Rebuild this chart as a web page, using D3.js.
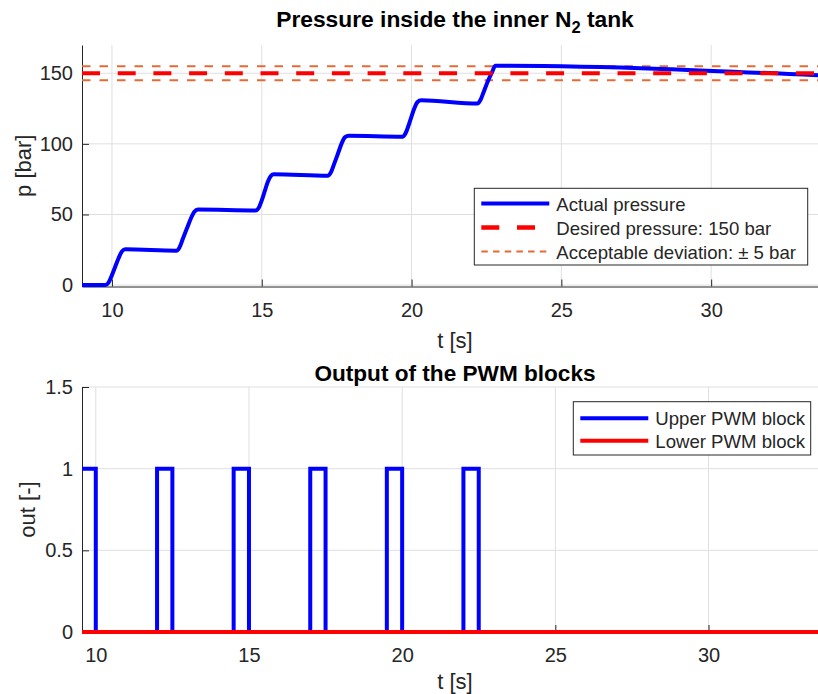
<!DOCTYPE html>
<html>
<head>
<meta charset="utf-8">
<script src="https://cdn.jsdelivr.net/npm/d3@7"></script>
<style>
    body { margin: 0; background: #fff; }
    svg { display: block; font-family: "Liberation Sans", Arial, Helvetica, sans-serif; }
    .axis path, .axis line { stroke: #262626; }
    .axis text { fill: #262626; font-size: 20px; }
</style>
</head>
<body>
<div id="main"></div>
<script>
// Pressure in the inner N2 tank (top plot)
const pressureT = [9.0, 9.78, 9.88, 9.98, 10.1, 10.22, 10.33, 10.45,
    12.15, 12.25, 12.37, 12.5, 12.63, 12.75, 12.87,
    14.8, 14.9, 15.0, 15.1, 15.2, 15.3, 15.4,
    17.2, 17.3, 17.42, 17.55, 17.67, 17.78, 17.9,
    19.7, 19.8, 19.9, 20.0, 20.1, 20.2, 20.32,
    22.2, 22.3, 22.42, 22.55, 22.68, 22.8,
    33.9];
const pressureP = [0, 0, 1.5, 6, 12.5, 19, 23.8, 25.3,
    24.4, 26.5, 33, 40, 47, 52, 53.6,
    52.9, 54.8, 60, 66.5, 73, 77.2, 78.4,
    77.4, 79.5, 86, 93.5, 100.5, 104.8, 105.8,
    105.1, 107.5, 113, 119.5, 125.5, 129.6, 130.8,
    128.5, 131, 137.5, 144.5, 150.5, 155.3,
    148.2];
const desiredPressure = 150;
const deviation = 5;

// PWM outputs (bottom plot), step signals
const pwmT = [9.55, 10.0, 12.0, 12.5, 14.5, 15.0, 17.0, 17.5, 19.5, 20.0, 22.0, 22.5, 33.9];
const upperPWM = [1, 0, 1, 0, 1, 0, 1, 0, 1, 0, 1, 0, 0];
const lowerPWM = [0, 0, 0, 0, 0, 0, 0, 0, 0, 0, 0, 0, 0];

const xTicks = [10, 15, 20, 25, 30];
const pTicks = [0, 50, 100, 150];
const outTicks = [0, 0.5, 1, 1.5];

const topLegend = ['Actual pressure', 'Desired pressure: 150 bar', 'Acceptable deviation: \u00B1 5 bar'];
const bottomLegend = ['Upper PWM block', 'Lower PWM block'];

const W = 818, H = 694;
const gridColor = '#dfdfdf';
const orange = '#e66a35';

const svg = d3.select('#main').append('svg')
    .attr('width', W)
    .attr('height', H);

// scales
const x1 = d3.scaleLinear().domain([9, 33.9]).range([82, 828]);
const y1 = d3.scaleLinear().domain([-1, 170]).range([286.5, 45]);
const x2 = d3.scaleLinear().domain([9.55, 33.9]).range([82, 828]);
const y2 = d3.scaleLinear().domain([0, 1.5]).range([632, 387]);

function drawFrame(x, y, yTicks, yFormat) {
    const g = svg.append('g');
    g.selectAll('.vgrid').data(xTicks).enter().append('line')
        .attr('x1', d => x(d)).attr('x2', d => x(d))
        .attr('y1', y.range()[0]).attr('y2', y.range()[1])
        .attr('stroke', gridColor);
    g.selectAll('.hgrid').data(yTicks).enter().append('line')
        .attr('x1', x.range()[0]).attr('x2', x.range()[1])
        .attr('y1', d => y(d)).attr('y2', d => y(d))
        .attr('stroke', gridColor);

    svg.append('g')
        .attr('class', 'axis')
        .attr('transform', 'translate(0,' + y.range()[0] + ')')
        .call(d3.axisBottom(x).tickValues(xTicks).tickSizeInner(-7).tickSizeOuter(0).tickPadding(16))
        .attr('font-family', null);

    svg.append('g')
        .attr('class', 'axis')
        .attr('transform', 'translate(' + x.range()[0] + ',0)')
        .call(d3.axisLeft(y).tickValues(yTicks).tickFormat(yFormat).tickSizeInner(-7).tickSizeOuter(0).tickPadding(9))
        .attr('font-family', null);
}

drawFrame(x1, y1, pTicks, d3.format('d'));
drawFrame(x2, y2, outTicks, d => String(d));

// top plot lines
const pressure = pressureT.map((t, i) => ({t: t, p: pressureP[i]}));

svg.append('line')
    .attr('x1', x1.range()[0]).attr('x2', x1.range()[1])
    .attr('y1', y1(desiredPressure + deviation)).attr('y2', y1(desiredPressure + deviation))
    .attr('stroke', orange).attr('stroke-width', 2).attr('stroke-dasharray', '8.5,9');
svg.append('line')
    .attr('x1', x1.range()[0]).attr('x2', x1.range()[1])
    .attr('y1', y1(desiredPressure - deviation)).attr('y2', y1(desiredPressure - deviation))
    .attr('stroke', orange).attr('stroke-width', 2).attr('stroke-dasharray', '8.5,9');

svg.append('path')
    .datum(pressure)
    .attr('fill', 'none')
    .attr('stroke', '#0000ff')
    .attr('stroke-width', 4)
    .attr('stroke-linejoin', 'round')
    .attr('d', d3.line().x(d => x1(d.t)).y(d => y1(d.p)).curve(d3.curveMonotoneX));

svg.append('line')
    .attr('x1', x1.range()[0]).attr('x2', x1.range()[1])
    .attr('y1', y1(desiredPressure)).attr('y2', y1(desiredPressure))
    .attr('stroke', '#ff0000').attr('stroke-width', 4).attr('stroke-dasharray', '18,17.7');

// bottom plot lines
const upper = pwmT.map((t, i) => ({t: t, v: upperPWM[i]}));
const lower = pwmT.map((t, i) => ({t: t, v: lowerPWM[i]}));
const stepLine = d3.line().x(d => x2(d.t)).y(d => y2(d.v)).curve(d3.curveStepAfter);

svg.append('path')
    .datum(upper)
    .attr('fill', 'none')
    .attr('stroke', '#0000ff')
    .attr('stroke-width', 4)
    .attr('d', stepLine);

svg.append('path')
    .datum(lower)
    .attr('fill', 'none')
    .attr('stroke', '#ff0000')
    .attr('stroke-width', 4)
    .attr('d', stepLine);

// titles
const t1 = svg.append('text')
    .attr('x', 455).attr('y', 26.7)
    .attr('text-anchor', 'middle')
    .attr('font-size', 22.8).attr('font-weight', 'bold').attr('fill', '#000');
t1.append('tspan').text('Pressure inside the inner N');
t1.append('tspan').attr('font-size', 16.5).attr('dy', 6).text('2');
t1.append('tspan').attr('dy', -6).text(' tank');

svg.append('text')
    .attr('x', 455).attr('y', 380.5)
    .attr('text-anchor', 'middle')
    .attr('font-size', 22.6).attr('font-weight', 'bold').attr('fill', '#000')
    .text('Output of the PWM blocks');

// axis labels
svg.append('text')
    .attr('x', 455).attr('y', 347.7)
    .attr('text-anchor', 'middle').attr('font-size', 22).attr('fill', '#262626')
    .text('t [s]');
svg.append('text')
    .attr('x', 455).attr('y', 689.3)
    .attr('text-anchor', 'middle').attr('font-size', 22).attr('fill', '#262626')
    .text('t [s]');
svg.append('text')
    .attr('transform', 'translate(31,' + ((y1.range()[0] + y1.range()[1]) / 2) + ') rotate(-90)')
    .attr('text-anchor', 'middle').attr('font-size', 22).attr('fill', '#262626')
    .text('p [bar]');
svg.append('text')
    .attr('transform', 'translate(35,' + ((y2.range()[0] + y2.range()[1]) / 2) + ') rotate(-90)')
    .attr('text-anchor', 'middle').attr('font-size', 22).attr('fill', '#262626')
    .text('out [-]');

// legends
const topStyles = [
    {stroke: '#0000ff', width: 4, dash: null},
    {stroke: '#ff0000', width: 4.5, dash: '18,17.7'},
    {stroke: orange, width: 2, dash: '6.5,5.2'}
];
const bottomStyles = [
    {stroke: '#0000ff', width: 4, dash: null},
    {stroke: '#ff0000', width: 4, dash: null}
];

function drawLegend(left, top, right, bottom, rowY, labels, styles) {
    const g = svg.append('g');
    g.append('rect')
        .attr('x', left).attr('y', top)
        .attr('width', right - left).attr('height', bottom - top)
        .attr('fill', '#fff').attr('stroke', '#262626').attr('stroke-width', 1);
    labels.forEach((label, i) => {
        const s = styles[i];
        g.append('line')
            .attr('x1', left + 7).attr('x2', left + 75)
            .attr('y1', rowY[i]).attr('y2', rowY[i])
            .attr('stroke', s.stroke).attr('stroke-width', s.width)
            .attr('stroke-dasharray', s.dash);
        g.append('text')
            .attr('x', left + 82).attr('y', rowY[i] + 7)
            .attr('font-size', 18.6).attr('fill', '#262626')
            .text(label);
    });
}

drawLegend(474.3, 188.3, 807.7, 265, [203.5, 227.5, 251.5], topLegend, topStyles);
drawLegend(573.3, 401.7, 810.7, 455, [418.3, 440.7], bottomLegend, bottomStyles);
</script>
</body>
</html>
